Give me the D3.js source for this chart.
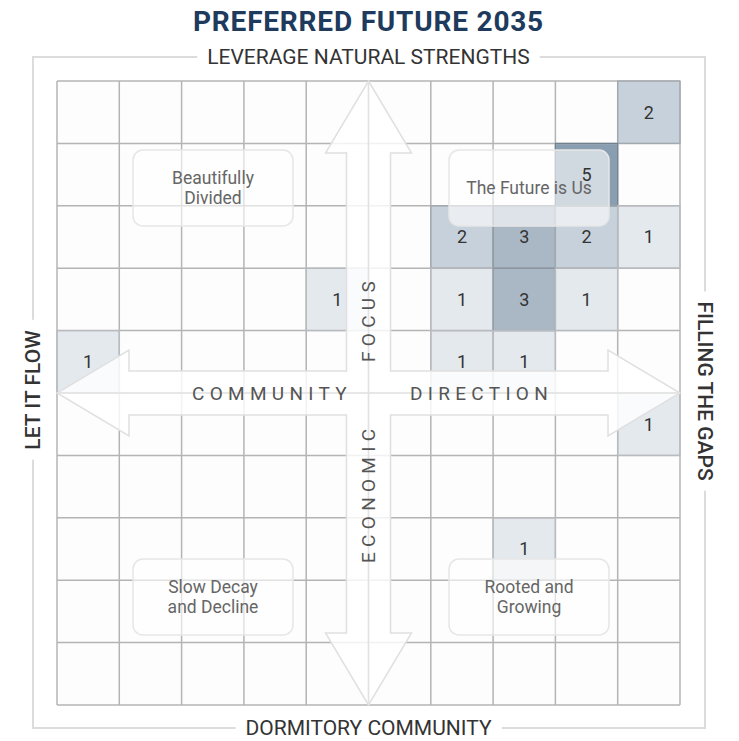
<!DOCTYPE html>
<html>
<head>
<meta charset="utf-8">
<script src="https://cdn.jsdelivr.net/npm/d3@7"></script>
<style>
  body { margin: 0; background: #fff; }
  svg { display: block; font-family: Roboto, "Open Sans", sans-serif; }
</style>
</head>
<body>
<svg id="chart" width="739" height="741"></svg>
<script>
// grid cells that hold a count (row 0 = top, col 0 = left)
const cellRows   = [0, 1, 2, 2, 2, 2, 3, 3, 3, 3, 4, 4, 4, 5, 7];
const cellCols   = [9, 8, 6, 7, 8, 9, 4, 6, 7, 8, 0, 6, 7, 9, 7];
const cellCounts = [2, 5, 2, 3, 2, 1, 1, 1, 3, 1, 1, 1, 1, 1, 1];

const title = "PREFERRED FUTURE 2035";
const edgeLabels = ["LEVERAGE NATURAL STRENGTHS", "DORMITORY COMMUNITY", "LET IT FLOW", "FILLING THE GAPS"];
const axisWords = ["COMMUNITY", "DIRECTION", "FOCUS", "ECONOMIC"];
const quadrantLabels = [["Beautifully", "Divided"], ["The Future is Us"], ["Slow Decay", "and Decline"], ["Rooted and", "Growing"]];

const nCells = 10;

const svg = d3.select("#chart");

const x = d3.scaleBand().domain(d3.range(nCells)).range([57, 680]);
const y = d3.scaleBand().domain(d3.range(nCells)).range([81, 705]);
const color = d3.scaleLinear()
  .domain([1, 2, 3, 5])
  .range(["#e4e9ee", "#c7d1db", "#aab8c6", "#8a9eb1"]);

const cells = cellCounts.map((v, i) => ({ r: cellRows[i], c: cellCols[i], v }));

const x0 = x.range()[0], x1 = x.range()[1];
const y0 = y.range()[0], y1 = y.range()[1];
const cx = (x0 + x1) / 2, cy = (y0 + y1) / 2;

// outer frame
const frame = { l: 33, r: 705, t: 57, b: 728 };
svg.append("rect")
  .attr("x", frame.l).attr("y", frame.t)
  .attr("width", frame.r - frame.l).attr("height", frame.b - frame.t)
  .attr("fill", "none").attr("stroke", "#dcdcdc").attr("stroke-width", 2);

// background cells
svg.append("rect")
  .attr("x", x0).attr("y", y0).attr("width", x1 - x0).attr("height", y1 - y0)
  .attr("fill", "#fdfdfd");

// coloured cells
svg.selectAll("rect.cell").data(cells).join("rect")
  .attr("class", "cell")
  .attr("x", d => x(d.c)).attr("y", d => y(d.r))
  .attr("width", x.bandwidth()).attr("height", y.bandwidth())
  .attr("fill", d => color(d.v));

// grid lines
const gridX = d3.range(nCells + 1).map(i => x0 + i * x.step());
const gridY = d3.range(nCells + 1).map(i => y0 + i * y.step());
svg.selectAll("line.gx").data(gridX).join("line")
  .attr("x1", d => d).attr("x2", d => d).attr("y1", y0).attr("y2", y1)
  .attr("stroke", "#b4b4b4").attr("stroke-width", 1.5);
svg.selectAll("line.gy").data(gridY).join("line")
  .attr("y1", d => d).attr("y2", d => d).attr("x1", x0).attr("x2", x1)
  .attr("stroke", "#b4b4b4").attr("stroke-width", 1.5);

// darker borders on coloured cells
svg.selectAll("rect.cellb").data(cells).join("rect")
  .attr("x", d => x(d.c)).attr("y", d => y(d.r))
  .attr("width", x.bandwidth()).attr("height", y.bandwidth())
  .attr("fill", "none")
  .attr("stroke", d => d3.color(color(d.v)).darker(0.6))
  .attr("stroke-width", 1.2);

// cross of arrows
const hl = 72, hw = 43, sw = 22;
const pts = [
  [cx, y0], [cx + hw, y0 + hl], [cx + sw, y0 + hl], [cx + sw, cy - sw],
  [x1 - hl, cy - sw], [x1 - hl, cy - hw], [x1, cy], [x1 - hl, cy + hw], [x1 - hl, cy + sw],
  [cx + sw, cy + sw], [cx + sw, y1 - hl], [cx + hw, y1 - hl], [cx, y1], [cx - hw, y1 - hl],
  [cx - sw, y1 - hl], [cx - sw, cy + sw], [x0 + hl, cy + sw], [x0 + hl, cy + hw], [x0, cy],
  [x0 + hl, cy - hw], [x0 + hl, cy - sw], [cx - sw, cy - sw], [cx - sw, y0 + hl], [cx - hw, y0 + hl]
];
svg.append("path")
  .attr("d", d3.line()(pts) + "Z")
  .attr("fill", "#fff").attr("fill-opacity", 0.82)
  .attr("stroke", "#e0e0e0").attr("stroke-width", 1.5);
svg.append("line").attr("x1", x0).attr("x2", x1).attr("y1", cy).attr("y2", cy)
  .attr("stroke", "#e2e2e2").attr("stroke-width", 1.5);
svg.append("line").attr("x1", cx).attr("x2", cx).attr("y1", y0).attr("y2", y1)
  .attr("stroke", "#e2e2e2").attr("stroke-width", 1.5);

// quadrant boxes
const boxW = 160, boxH = 76;
const boxCenters = [[213, 188], [529, 188], [213, 597], [529, 597]];
quadrantLabels.forEach((lines, i) => {
  const [bx, by] = boxCenters[i];
  svg.append("rect")
    .attr("x", bx - boxW / 2).attr("y", by - boxH / 2)
    .attr("width", boxW).attr("height", boxH).attr("rx", 10)
    .attr("fill", "#fff").attr("fill-opacity", 0.6)
    .attr("stroke", "#e6e6e6").attr("stroke-width", 1.5);
});

// counts (drawn over the boxes)
svg.selectAll("text.count").data(cells).join("text")
  .attr("x", d => x(d.c) + x.bandwidth() / 2)
  .attr("y", d => y(d.r) + y.bandwidth() / 2)
  .attr("dy", "0.35em")
  .attr("text-anchor", "middle")
  .attr("font-size", 18)
  .attr("fill", "#333")
  .text(d => d.v);

// quadrant texts
quadrantLabels.forEach((lines, i) => {
  const [bx, by] = boxCenters[i];
  const t = svg.append("text")
    .attr("text-anchor", "middle").attr("font-size", 17.5).attr("fill", "#666");
  lines.forEach((s, j) => {
    t.append("tspan").attr("x", bx)
      .attr("y", by + (j - (lines.length - 1) / 2) * 20.5)
      .attr("dy", "0.35em").text(s);
  });
});

// axis words
const spaced = { "font-size": 19, "letter-spacing": 5.3, fill: "#555" };
function addText(sel, attrs) { Object.entries(attrs).forEach(([k, v]) => sel.attr(k, v)); return sel; }
addText(svg.append("text"), spaced).attr("x", 352).attr("y", cy).attr("dy", "0.35em")
  .attr("text-anchor", "end").text(axisWords[0]);
addText(svg.append("text"), spaced).attr("x", 410).attr("y", cy).attr("dy", "0.35em")
  .attr("text-anchor", "start").text(axisWords[1]);
addText(svg.append("text"), spaced)
  .attr("transform", `translate(${cx},362) rotate(-90)`).attr("dy", "0.35em")
  .attr("text-anchor", "start").text(axisWords[2]);
addText(svg.append("text"), spaced)
  .attr("transform", `translate(${cx},563) rotate(-90)`).attr("dy", "0.35em")
  .attr("text-anchor", "start").text(axisWords[3]);

// edge labels sitting on the frame
function edgeLabel(txt, tx, ty, rot, weight) {
  const g = svg.append("g").attr("transform", `translate(${tx},${ty}) rotate(${rot})`);
  const bg = g.append("rect").attr("fill", "#fff");
  const t = g.append("text").attr("text-anchor", "middle").attr("dy", "0.35em")
    .attr("font-size", 21).attr("font-weight", weight).attr("fill", "#333").text(txt);
  const bb = t.node().getBBox();
  bg.attr("x", bb.x - 10).attr("y", -6).attr("width", bb.width + 20).attr("height", 12);
}
edgeLabel(edgeLabels[0], cx, frame.t, 0, 400);
edgeLabel(edgeLabels[1], cx, frame.b, 0, 400);
edgeLabel(edgeLabels[2], frame.l, 390, -90, 500);
edgeLabel(edgeLabels[3], frame.r, 391, 90, 500);

// title
svg.append("text")
  .attr("x", cx).attr("y", 31)
  .attr("text-anchor", "middle")
  .attr("font-size", 28).attr("font-weight", 700)
  .attr("letter-spacing", 0.8)
  .attr("fill", "#1e3a5c")
  .text(title);
</script>
</body>
</html>
